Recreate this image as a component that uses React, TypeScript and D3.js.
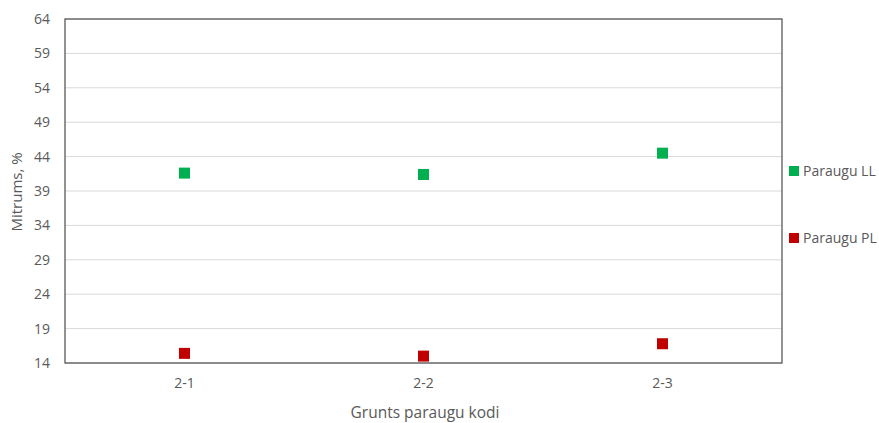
import React from "react";
import * as d3 from "d3";

const categories = ["2-1", "2-2", "2-3"];
const seriesLL = [41.6, 41.4, 44.5];
const seriesPL = [15.4, 15.0, 16.8];
const yTicks = [14, 19, 24, 29, 34, 39, 44, 49, 54, 59, 64];
const seriesNames = ["Paraugu LL", "Paraugu PL"];
const seriesColors = ["#00B050", "#C00000"];

export default function App() {
  const W = 879, H = 423;
  const left = 65, right = 782, top = 19, bottom = 363;
  const x = d3.scaleBand().domain(categories).range([left, right]);
  const y = d3.scaleLinear().domain([14, 64]).range([bottom, top]);
  const font = "'Open Sans', 'DejaVu Sans', sans-serif";
  const ms = 11;
  const series = [seriesLL, seriesPL];
  const legendY = [171, 238];
  return (
    <svg width={W} height={H} style={{ position: "absolute", left: 0, top: 0 }} fontFamily={font}>
      <rect x={0} y={0} width={W} height={H} fill="#fff" />
      {yTicks.map((t) => (
        <line key={t} x1={left} x2={right} y1={y(t)} y2={y(t)} stroke="#d9d9d9" strokeWidth={1} />
      ))}
      <rect x={left} y={top} width={right - left} height={bottom - top} fill="none" stroke="#595959" strokeWidth={1.3} />
      {yTicks.map((t) => (
        <text key={t} x={50} y={y(t)} dy="0.35em" textAnchor="end" fontSize={14} fill="#595959">{t}</text>
      ))}
      {categories.map((c) => (
        <text key={c} x={x(c)! + x.bandwidth() / 2} y={388} textAnchor="middle" fontSize={14} fill="#595959">{c}</text>
      ))}
      {series.map((s, si) =>
        s.map((v, i) => (
          <rect key={si + "-" + i} x={x(categories[i])! + x.bandwidth() / 2 - ms / 2} y={y(v) - ms / 2} width={ms} height={ms} fill={seriesColors[si]} />
        ))
      )}
      <text x={425} y={418} textAnchor="middle" fontSize={15.5} fill="#595959">Grunts paraugu kodi</text>
      <text transform={`translate(22,192) rotate(-90)`} textAnchor="middle" fontSize={15} fill="#595959">Mitrums, %</text>
      {seriesNames.map((n, i) => (
        <g key={n}>
          <rect x={789} y={legendY[i] - 5} width={10} height={10} fill={seriesColors[i]} />
          <text x={803} y={legendY[i]} dy="0.35em" fontSize={14} fill="#595959">{n}</text>
        </g>
      ))}
    </svg>
  );
}
